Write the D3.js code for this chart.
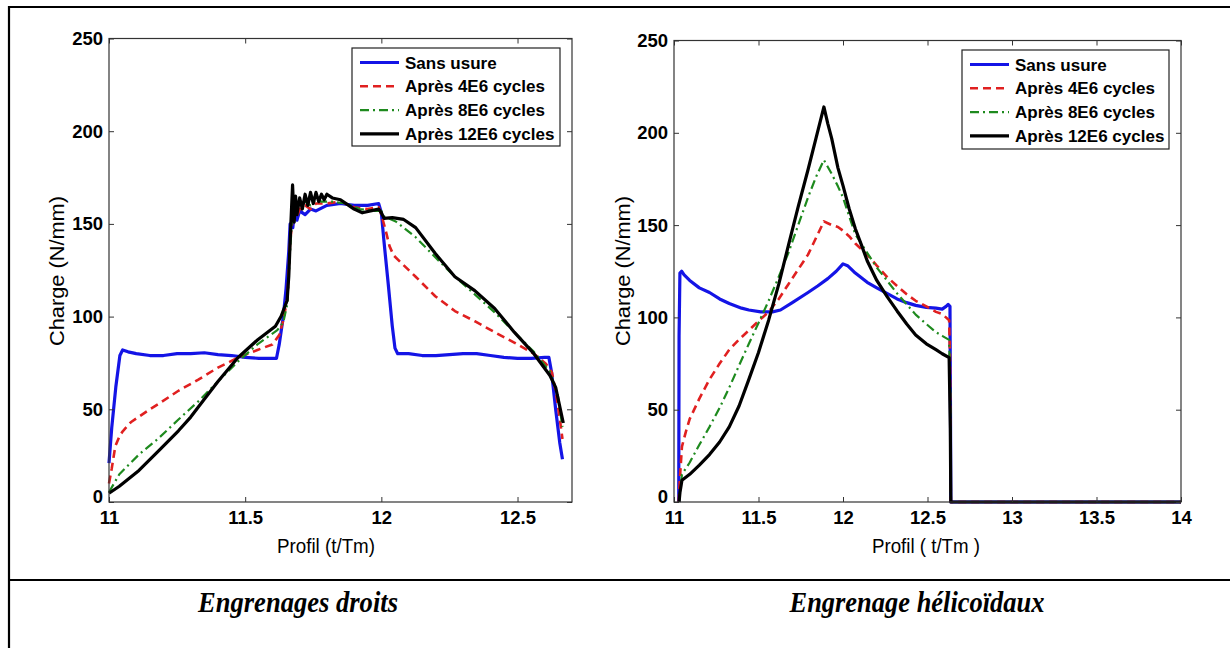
<!DOCTYPE html>
<html><head><meta charset="utf-8">
<script src="https://cdn.jsdelivr.net/npm/d3@7"></script>
<style>body{margin:0;background:#fff}svg{display:block}</style>
</head><body>
<svg id="c" width="1230" height="648"></svg>
<script>
// ---------- DATA ----------
const seriesNames = ["Sans usure", "Après 4E6 cycles", "Après 8E6 cycles", "Après 12E6 cycles"];
const captions = ["Engrenages droits", "Engrenage hélicoïdaux"];
const yTicks = [0, 50, 100, 150, 200, 250];
const xTicksDroits = [11, 11.5, 12, 12.5];
const xTicksHelico = [11, 11.5, 12, 12.5, 13, 13.5, 14];
const xDomainDroits = [11, 12.7];
const xDomainHelico = [11, 14];
const yDomain = [0, 250];

const droitsSansUsure = [[11.00,21],[11.01,40],[11.025,62],[11.04,79],[11.05,82],[11.07,81],[11.1,80],[11.15,79],[11.2,79],[11.25,80],[11.3,80],[11.35,80.5],[11.4,79.5],[11.45,79],[11.5,78],[11.55,77.5],[11.6,77.5],[11.615,77.5],[11.625,85],[11.64,100],[11.65,115],[11.66,135],[11.665,150],[11.675,148],[11.68,156],[11.69,152],[11.7,157],[11.72,155],[11.74,158],[11.76,157],[11.8,160],[11.85,161],[11.9,160],[11.95,160],[11.99,161],[12.0,156],[12.01,140],[12.025,118],[12.04,95],[12.05,83],[12.06,80],[12.1,80],[12.15,79],[12.2,79],[12.25,79.5],[12.3,80],[12.35,80],[12.4,79],[12.45,78],[12.5,77.5],[12.55,77.5],[12.6,78],[12.615,78],[12.625,70],[12.64,50],[12.655,32],[12.665,23]];
const droits4E6 = [[11.0,10],[11.01,18],[11.023,30],[11.04,36],[11.052,38.4],[11.08,43],[11.11,46],[11.15,50],[11.183,53],[11.255,60],[11.328,66],[11.4,72.5],[11.473,77.8],[11.545,82],[11.6,85],[11.625,90],[11.64,98],[11.655,110],[11.665,140],[11.672,150],[11.68,158],[11.69,154],[11.7,158],[11.72,160],[11.74,158],[11.76,161],[11.8,161],[11.85,162],[11.9,159],[11.95,158],[11.99,159],[12.0,155],[12.015,147],[12.03,138],[12.045,133],[12.08,128],[12.126,121.5],[12.198,111],[12.27,103],[12.343,97.5],[12.416,91.6],[12.488,86],[12.56,80],[12.604,74.6],[12.626,70],[12.64,60],[12.655,45],[12.665,34]];
const droits8E6 = [[11.0,5.3],[11.038,15],[11.11,25.6],[11.183,34.5],[11.255,44.5],[11.328,54.3],[11.4,65],[11.473,75.7],[11.545,85],[11.618,92.7],[11.64,97],[11.655,107],[11.665,135],[11.672,152],[11.68,160],[11.69,157],[11.7,161],[11.72,162],[11.74,160],[11.76,163],[11.78,162],[11.82,162],[11.87,161],[11.92,158],[11.97,157],[12.0,157],[12.01,154],[12.053,151.3],[12.126,142.8],[12.198,132],[12.27,121.5],[12.343,112],[12.416,102.3],[12.488,91.6],[12.56,81],[12.619,70.3],[12.648,57.5],[12.665,40.5]];
const droits12E6 = [[11.0,4.7],[11.038,8.5],[11.11,17],[11.183,27.7],[11.255,38.4],[11.30,45.8],[11.328,51.2],[11.4,65],[11.473,77.8],[11.545,87.4],[11.611,94.8],[11.632,100.2],[11.654,108.7],[11.66,121.5],[11.668,151],[11.674,171],[11.68,151],[11.685,165],[11.69,155],[11.70,164],[11.71,158],[11.72,166],[11.73,160],[11.74,167],[11.75,161],[11.76,167],[11.77,162],[11.78,166],[11.79,163],[11.80,166],[11.82,164],[11.85,163],[11.88,160],[11.9,158],[11.93,156],[11.96,157],[11.99,158],[12.0,156],[12.01,153],[12.04,153.4],[12.082,152.4],[12.126,148],[12.198,134],[12.27,121.5],[12.343,114],[12.416,104.4],[12.488,91.6],[12.56,80],[12.619,68.2],[12.64,61.8],[12.668,42.6]];

const helicoSansUsure = [[11.028,0],[11.03,90],[11.035,124],[11.045,125],[11.06,123],[11.093,120],[11.15,116],[11.21,113.5],[11.27,110],[11.327,107.5],[11.4,105],[11.443,104],[11.513,103],[11.583,103],[11.63,104],[11.7,108],[11.793,113.5],[11.85,117],[11.91,121],[11.96,125],[12.0,129],[12.027,128],[12.073,124],[12.143,119],[12.2,116],[12.26,113],[12.32,110],[12.377,108],[12.43,106.5],[12.493,105.4],[12.55,105],[12.587,104.5],[12.61,106],[12.622,107],[12.633,106],[12.636,50],[12.638,0],[14,0]];
const helico4E6 = [[11.028,0],[11.035,13],[11.047,30],[11.07,38],[11.093,45],[11.15,56],[11.21,66.4],[11.27,75],[11.327,82.5],[11.385,88],[11.443,93],[11.5,98],[11.56,103],[11.62,110],[11.677,118],[11.735,126],[11.793,134],[11.84,143],[11.887,152],[11.91,151],[11.933,150],[11.97,149],[12.0,147],[12.036,144],[12.073,140],[12.143,134],[12.2,128],[12.26,122],[12.32,117],[12.377,112.5],[12.43,109],[12.493,106],[12.55,103],[12.587,101.8],[12.628,98.5],[12.633,79],[12.638,0],[14,0]];
const helico8E6 = [[11.03,0],[11.047,15],[11.093,21.4],[11.15,31],[11.21,40.7],[11.27,51],[11.327,62],[11.385,74],[11.443,85.7],[11.5,97],[11.56,109],[11.62,122],[11.677,135],[11.735,150],[11.793,165],[11.84,176],[11.887,185.3],[11.933,177.8],[11.97,171],[12.0,165],[12.036,155],[12.073,145],[12.143,135],[12.2,127],[12.26,120],[12.32,113],[12.377,107],[12.43,101.5],[12.493,96.4],[12.55,92],[12.587,90],[12.628,87.8],[12.635,60],[12.638,0],[14,0]];
const helico12E6 = [[11.03,0],[11.035,5],[11.047,11.8],[11.093,15],[11.15,20],[11.21,25.7],[11.27,32.5],[11.327,40.7],[11.385,52],[11.443,66.4],[11.5,81],[11.56,98.5],[11.62,118],[11.677,139],[11.735,160],[11.793,180],[11.84,197],[11.887,214],[11.91,205],[11.933,197],[11.97,181],[12.0,171.4],[12.036,159],[12.073,148],[12.11,139],[12.143,130.7],[12.2,120],[12.26,111.4],[12.32,103.5],[12.377,96.4],[12.43,90.5],[12.493,85.7],[12.55,82.5],[12.587,80.3],[12.628,78.2],[12.635,40],[12.638,0],[14,0]];

// ---------- STYLES ----------
const styles = [
  {color:"#1414e6", width:3.2, dash:null},
  {color:"#e02020", width:2.6, dash:"8,5"},
  {color:"#1e8a1e", width:2.2, dash:"9,4,2,4"},
  {color:"#000000", width:3.2, dash:null}
];

const svg = d3.select("#c");

// table frame
svg.append("path").attr("d","M9,648 V7 H1230 M9,580 H1230")
  .attr("fill","none").attr("stroke","#000").attr("stroke-width",2.2);

function panel(cfg){
  const x = d3.scaleLinear().domain(cfg.xDomain).range([cfg.left, cfg.right]);
  const y = d3.scaleLinear().domain(yDomain).range([502, cfg.top]);
  const g = svg.append("g");
  const tickFont = "bold 18.5px Arial, 'Liberation Sans', sans-serif";

  // lines
  const line = d3.line().x(d=>x(d[0])).y(d=>y(d[1]));
  cfg.series.forEach((s,i)=>{
    g.append("path").datum(s).attr("d",line).attr("fill","none")
      .attr("stroke",styles[i].color).attr("stroke-width",styles[i].width)
      .attr("stroke-linejoin","round")
      .attr("stroke-dasharray",styles[i].dash);
  });

  // axes with inward ticks
  g.append("g").attr("transform",`translate(0,502)`)
    .call(d3.axisBottom(x).tickValues(cfg.xTicks).tickSizeInner(-5).tickSizeOuter(0).tickPadding(9).tickFormat(d3.format("")));
  const ay = g.append("g").attr("transform",`translate(${cfg.left},0)`)
    .call(d3.axisLeft(y).tickValues(yTicks).tickSizeInner(-5).tickSizeOuter(0).tickPadding(6));
  ay.selectAll(".tick text").filter(d=>d===0).attr("dy","0.05em");
  g.append("g").attr("transform",`translate(0,${cfg.top})`)
    .call(d3.axisTop(x).tickValues(cfg.xTicks).tickSizeInner(-5).tickSizeOuter(0).tickFormat(""));
  g.append("g").attr("transform",`translate(${cfg.right},0)`)
    .call(d3.axisRight(y).tickValues(yTicks).tickSizeInner(-5).tickSizeOuter(0).tickFormat(""));
  g.selectAll(".domain").remove();
  g.selectAll(".tick line").attr("stroke","#333").attr("stroke-width",1);
  g.selectAll(".tick text").style("font",tickFont).attr("fill","#000");

  // box
  g.append("rect").attr("x",cfg.left).attr("y",cfg.top)
    .attr("width",cfg.right-cfg.left).attr("height",502-cfg.top)
    .attr("fill","none").attr("stroke","#333").attr("stroke-width",1.2);

  // axis labels
  g.append("text").attr("x",cfg.xLabelX).attr("y",553).attr("text-anchor","middle")
    .attr("font-family","Arial, 'Liberation Sans', sans-serif").attr("font-size",21)
    .attr("textLength",cfg.xLabelLen).attr("lengthAdjust","spacingAndGlyphs")
    .text(cfg.xLabel);
  g.append("text").attr("transform",`translate(${cfg.yLabelX},271) rotate(-90)`)
    .attr("text-anchor","middle")
    .attr("font-family","Arial, 'Liberation Sans', sans-serif").attr("font-size",21)
    .attr("textLength",150).attr("lengthAdjust","spacingAndGlyphs")
    .text("Charge (N/mm)");

  // legend
  const L = cfg.legend;
  const lg = g.append("g");
  lg.append("rect").attr("x",L.x).attr("y",L.y).attr("width",L.w).attr("height",L.h)
    .attr("fill","#fff").attr("stroke","#222").attr("stroke-width",1.2);
  seriesNames.forEach((n,i)=>{
    const cy = L.y + 14.5 + i*23.8;
    lg.append("line").attr("x1",L.x+8).attr("x2",L.x+47).attr("y1",cy).attr("y2",cy)
      .attr("stroke",styles[i].color).attr("stroke-width",styles[i].width)
      .attr("stroke-dasharray",styles[i].dash);
    lg.append("text").attr("x",L.x+53).attr("y",cy+6)
      .style("font","bold 17px Arial, 'Liberation Sans', sans-serif").text(n);
  });

  // caption
  svg.append("text").attr("x",cfg.captionX).attr("y",612).attr("text-anchor","middle")
    .style("font","italic bold 29px 'Liberation Serif', 'Times New Roman', serif")
    .attr("textLength",cfg.captionLen).attr("lengthAdjust","spacingAndGlyphs")
    .text(cfg.caption);
}

panel({xDomain:xDomainDroits, xTicks:xTicksDroits, left:109, right:572, top:38.5,
  series:[droitsSansUsure, droits4E6, droits8E6, droits12E6],
  xLabel:"Profil (t/Tm)", xLabelX:326, xLabelLen:98, yLabelX:64,
  legend:{x:352,y:48,w:208,h:98}, caption:captions[0], captionX:298, captionLen:200});

panel({xDomain:xDomainHelico, xTicks:xTicksHelico, left:674, right:1181, top:40.5,
  series:[helicoSansUsure, helico4E6, helico8E6, helico12E6],
  xLabel:"Profil ( t/Tm )", xLabelX:926, xLabelLen:108, yLabelX:630,
  legend:{x:962,y:50,w:207,h:99}, caption:captions[1], captionX:917, captionLen:255});
</script>
</body></html>
